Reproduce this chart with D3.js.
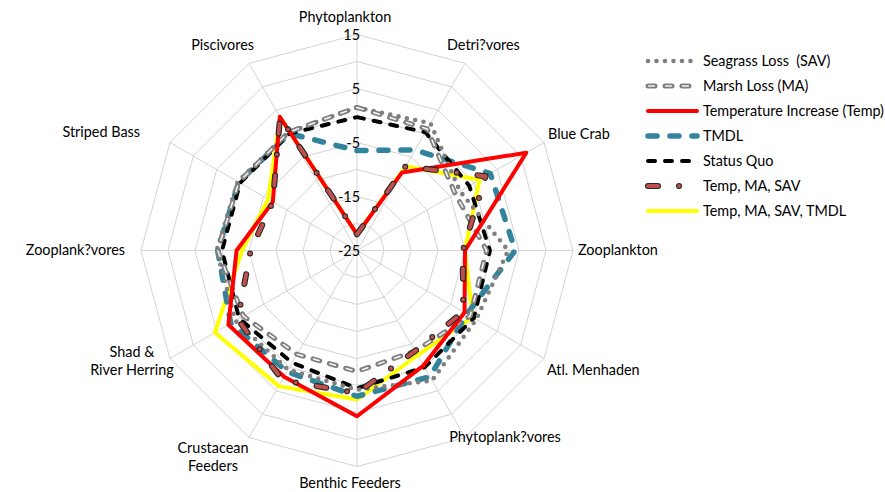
<!DOCTYPE html>
<html>
<head>
<meta charset="utf-8">
<script src="https://cdn.jsdelivr.net/npm/d3@7"></script>
<style>
  html, body { margin: 0; padding: 0; background: #ffffff; }
  svg text { font-family: Lato, "Open Sans", sans-serif; font-size: 14.4px; fill: #000000; }
</style>
</head>
<body>
<svg id="chart" width="885" height="492"></svg>
<script>
// Food-web groups, clockwise from the top
const categories = [
  "Phytoplankton", "Detri?vores", "Blue Crab", "Zooplankton", "Atl. Menhaden",
  "Phytoplank?vores", "Benthic Feeders", "Crustacean\nFeeders", "Shad &\nRiver Herring",
  "Zooplank?vores", "Striped Bass", "Piscivores"
];

// Percent change by scenario
const seagrassLoss   = [1.5, 2.2, -3, 3, 0.5, 2.8, 0.8, 0.5, 1, 1, 0.5, 0.3];
const marshLoss      = [1.5, 1, -4, -1, -0.8, -3.5, -2.6, -2.8, -0.7, 0.8, 0.3, 0.3];
const tempIncrease   = [-22, -8.3, 11.2, -5, -2, -0.4, 5.7, 2, 2.5, -2.7, -7, 3.6];
const tmdl           = [-6.5, -3.5, 3.5, 4.3, -1.5, 2, 2, 0.9, 2, 0.8, 0.3, 0];
const statusQuo      = [-0.3, 0.3, -1, -0.4, 0, 0, 0.5, -1, 0.2, 0, 0, 0];
const tempMaSav      = [-22, -7, 2.5, -5.4, -2.3, -3.5, 1.4, 2.7, 0.5, -5.3, -7, 3.5];
const tempMaSavTmdl  = [-22, -7, 1.2, -5, -0.3, -2.6, 2.6, 4, 5.4, -3.7, -6, 3.5];

const seriesNames = [
  "Seagrass Loss  (SAV)", "Marsh Loss (MA)", "Temperature Increase (Temp)", "TMDL",
  "Status Quo", "Temp, MA, SAV", "Temp, MA, SAV, TMDL"
];

// Value axis
const axisMin = -25, axisMax = 15;
const gridValues = [-20, -15, -10, -5, 0, 5, 10, 15];
const tickLabels = [15, 5, -5, -15, -25];

// ---- layout ----
const cx = 357, cy = 250.5, outerR = 216;

const svg = d3.select("#chart");

const r = d3.scaleLinear().domain([axisMin, axisMax]).range([0, outerR]);
const angle = d3.scaleLinear().domain([0, categories.length]).range([0, 2 * Math.PI]);

const plot = svg.append("g").attr("transform", `translate(${cx},${cy})`);

// grid rings (polygons) and spokes
const ring = d3.lineRadial()
  .angle((d, i) => angle(i))
  .radius(d => r(d))
  .curve(d3.curveLinearClosed);

plot.append("g").selectAll("path")
  .data(gridValues)
  .join("path")
  .attr("d", v => ring(categories.map(() => v)))
  .attr("fill", "none")
  .attr("stroke", "#d3d3d3")
  .attr("stroke-width", 1);

plot.append("g").selectAll("line")
  .data(categories)
  .join("line")
  .attr("x1", 0).attr("y1", 0)
  .attr("x2", (d, i) => r(axisMax) * Math.sin(angle(i)))
  .attr("y2", (d, i) => -r(axisMax) * Math.cos(angle(i)))
  .attr("stroke", "#d3d3d3")
  .attr("stroke-width", 1);

// value labels along the top spoke
plot.append("g").selectAll("text")
  .data(tickLabels)
  .join("text")
  .attr("x", 3)
  .attr("y", v => -r(v))
  .attr("dy", "0.35em")
  .attr("text-anchor", "end")
  .text(d => d);

// category label placement (label centre and alignment)
const labelPlacement = [
  { x: 345, y: 17,  anchor: "middle" },
  { x: 447, y: 45,  anchor: "start" },
  { x: 548, y: 134, anchor: "start" },
  { x: 578, y: 250, anchor: "start" },
  { x: 547, y: 370, anchor: "start" },
  { x: 505, y: 437, anchor: "middle" },
  { x: 350, y: 483, anchor: "middle" },
  { x: 213, y: 457, anchor: "middle" },
  { x: 132, y: 361, anchor: "middle" },
  { x: 125, y: 250, anchor: "end" },
  { x: 140, y: 132, anchor: "end" },
  { x: 254, y: 45,  anchor: "end" }
];

const lineGap = 18;
svg.append("g").selectAll("text")
  .data(categories)
  .join("text")
  .attr("text-anchor", (d, i) => labelPlacement[i].anchor)
  .each(function (d, i) {
    const lines = d.split("\n");
    const p = labelPlacement[i];
    const top = p.y - (lines.length - 1) * lineGap / 2;
    d3.select(this).selectAll("tspan")
      .data(lines)
      .join("tspan")
      .attr("x", p.x)
      .attr("y", (l, k) => top + k * lineGap)
      .attr("dy", "0.35em")
      .text(l => l);
  });

// ---- series styles: each entry is a list of stroke layers ----
const seriesStyles = [
  [ { stroke: "#7f7f7f", width: 4.6, dash: "0 8.5", cap: "round" } ],
  [ { stroke: "#7f7f7f", width: 5,   dash: "7 10", cap: "round" },
    { stroke: "#f2f2f2", width: 1.6, dash: "7 10", cap: "butt" } ],
  [ { stroke: "#ff0000", width: 4,   dash: null, cap: "round" } ],
  [ { stroke: "#31849b", width: 5.5, dash: "9 13", cap: "round" } ],
  [ { stroke: "#000000", width: 4,   dash: "7 10", cap: "round" } ],
  [ { stroke: "#262626", width: 6,   dash: "10 21 0 21", cap: "round" },
    { stroke: "#c0504d", width: 3.8, dash: "10 21 0 21", cap: "round" } ],
  [ { stroke: "#ffff00", width: 4,   dash: null, cap: "round" } ]
];

const seriesValues = [seagrassLoss, marshLoss, tempIncrease, tmdl, statusQuo, tempMaSav, tempMaSavTmdl];

// drawing order, bottom to top
const drawOrder = [6, 3, 4, 0, 1, 2, 5];

const radarLine = d3.lineRadial()
  .angle((d, i) => angle(i))
  .radius(d => r(d))
  .curve(d3.curveLinearClosed);

const seriesLayer = plot.append("g");
drawOrder.forEach(s => {
  const g = seriesLayer.append("g").attr("class", "series");
  seriesStyles[s].forEach(layer => {
    g.append("path")
      .attr("d", radarLine(seriesValues[s]))
      .attr("fill", "none")
      .attr("stroke", layer.stroke)
      .attr("stroke-width", layer.width)
      .attr("stroke-dasharray", layer.dash)
      .attr("stroke-linecap", layer.cap)
      .attr("stroke-linejoin", "round");
  });
});

// ---- legend ----
const legendX0 = 648, legendX1 = 697, legendTextX = 703, legendY0 = 61, legendStep = 25;
const legend = svg.append("g");
seriesNames.forEach((name, s) => {
  const y = legendY0 + s * legendStep;
  seriesStyles[s].forEach(layer => {
    legend.append("path")
      .attr("d", d3.line()([[legendX0, y], [legendX1, y]]))
      .attr("fill", "none")
      .attr("stroke", layer.stroke)
      .attr("stroke-width", layer.width)
      .attr("stroke-dasharray", layer.dash)
      .attr("stroke-linecap", layer.cap);
  });
  legend.append("text")
    .attr("x", legendTextX)
    .attr("y", y)
    .attr("dy", "0.35em")
    .attr("xml:space", "preserve")
    .style("white-space", "pre")
    .text(name);
});
</script>
</body>
</html>
